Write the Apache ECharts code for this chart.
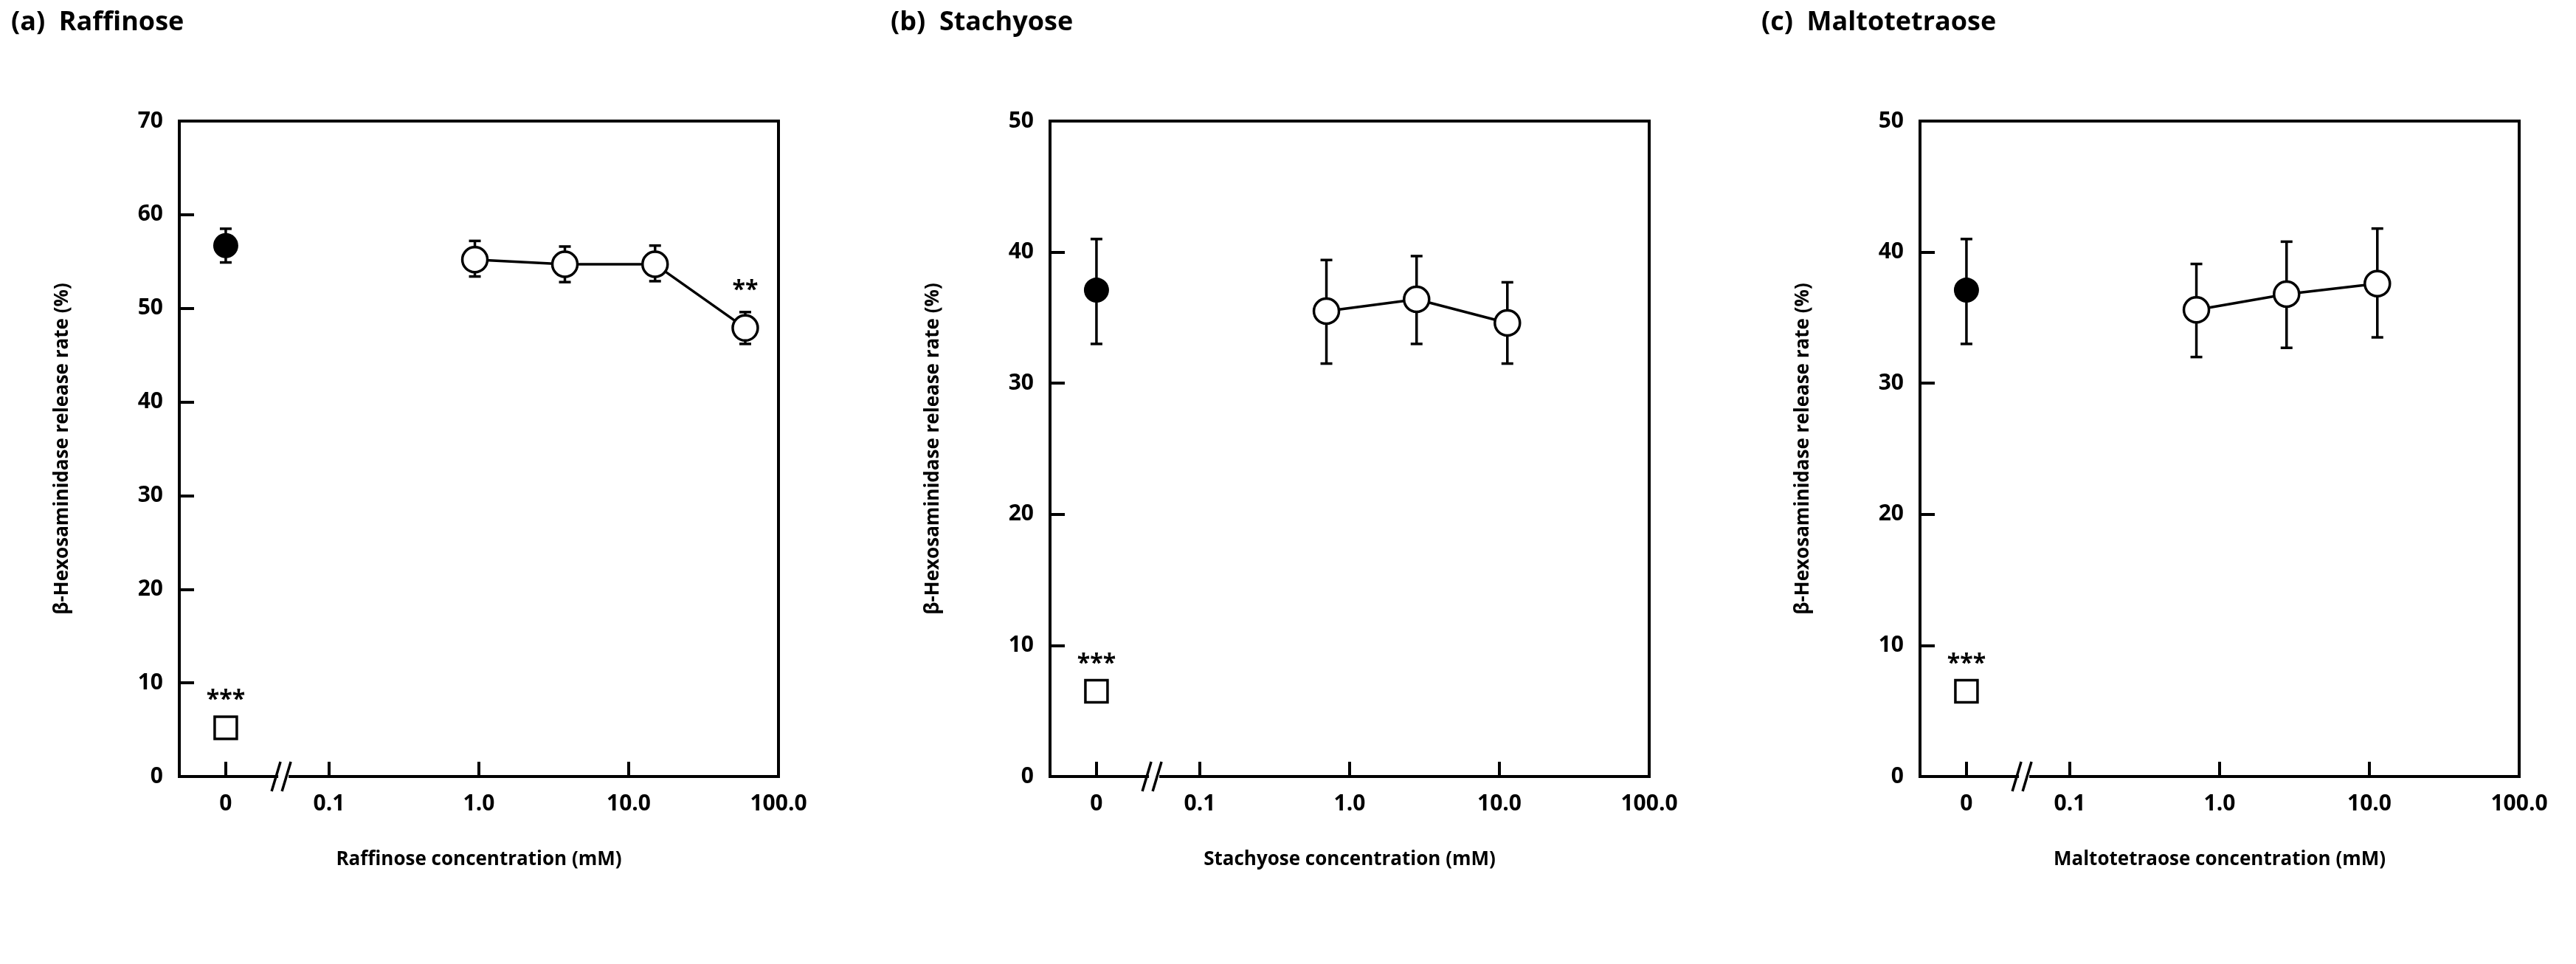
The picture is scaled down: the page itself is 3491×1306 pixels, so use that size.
<!DOCTYPE html>
<html><head><meta charset="utf-8">
<script src="https://cdn.jsdelivr.net/npm/echarts@6/dist/echarts.min.js"></script>
<style>html,body{margin:0;background:#fff}#c{width:3491px;height:1306px}</style>
</head><body><div id="c"></div>
<script>
// panel info
const titles = ['(a)  Raffinose', '(b)  Stachyose', '(c)  Maltotetraose'];
const xNames = ['Raffinose concentration (mM)', 'Stachyose concentration (mM)', 'Maltotetraose concentration (mM)'];
const yMax = [70, 50, 50];
// concentrations (mM) of treated points
const concA = [0.94, 3.75, 15, 60];
const concB = [0.7, 2.8, 11.3];
const concC = [0.7, 2.8, 11.3];
// means and error bounds
const meanA = [55.2, 54.7, 54.7, 47.9], loA = [53.4, 52.8, 52.9, 46.2], hiA = [57.2, 56.6, 56.7, 49.6];
const meanB = [35.5, 36.4, 34.6], loB = [31.5, 33.0, 31.5], hiB = [39.4, 39.7, 37.7];
const meanC = [35.6, 36.8, 37.6], loC = [32.0, 32.7, 33.5], hiC = [39.1, 40.8, 41.8];
// positive control (filled) and negative control (square), plotted at "0"
const ctrl = [[56.7, 54.9, 58.5], [37.1, 33.0, 41.0], [37.1, 33.0, 41.0]];
const blank = [5.2, 6.5, 6.5];
const sigTreated = [[null, null, null, '**'], [null, null, null], [null, null, null]];
// x axis: log10 units, "0" drawn at -1.69, break at -1.3
const zeroPos = -1.69, breakPos = -1.3;
const tickVals = [zeroPos, -1, 0, 1, 2];
const tickText = ['0', '0.1', '1.0', '10.0', '100.0'];

const conc = [concA, concB, concC], mean = [meanA, meanB, meanC], lo = [loA, loB, loC], hi = [hiA, hiB, hiC];
const lefts = [243, 1423, 2602], W = 812;
const FONT = 'Open Sans';
const chart = echarts.init(document.getElementById('c'));
let grid = [], xAxis = [], yAxis = [], series = [], title = [];
const titleX = [10, 1202, 2382];

const errRender = function (params, api) {
  const x = api.value(0), l = api.value(1), h = api.value(2);
  const p1 = api.coord([x, l]), p2 = api.coord([x, h]), w = 8;
  const st = { stroke: '#000', lineWidth: 3.5 };
  return { type: 'group', children: [
    { type: 'line', shape: { x1: p1[0], y1: p1[1], x2: p2[0], y2: p2[1] }, style: st },
    { type: 'line', shape: { x1: p1[0] - w, y1: p1[1], x2: p1[0] + w, y2: p1[1] }, style: st },
    { type: 'line', shape: { x1: p2[0] - w, y1: p2[1], x2: p2[0] + w, y2: p2[1] }, style: st }
  ]};
};
const breakRender = function (params, api) {
  const p = api.coord([api.value(0), 0]);
  const st = { stroke: '#000', lineWidth: 3.5 };
  return { type: 'group', children: [
    { type: 'rect', shape: { x: p[0] - 8, y: p[1] - 4, width: 14, height: 8 }, style: { fill: '#fff' } },
    { type: 'line', shape: { x1: p[0] - 17, y1: p[1] + 20, x2: p[0] - 5, y2: p[1] - 20 }, style: st },
    { type: 'line', shape: { x1: p[0] - 3, y1: p[1] + 20, x2: p[0] + 9, y2: p[1] - 20 }, style: st }
  ]};
};

for (let i = 0; i < 3; i++) {
  title.push({ text: titles[i], left: titleX[i], top: 8, textStyle: { fontFamily: FONT, fontWeight: 'bold', fontSize: 36, color: '#000' } });
  grid.push({ left: lefts[i], width: W, top: 164, height: 888, show: true, borderColor: '#000', borderWidth: 4, backgroundColor: 'transparent' });
  xAxis.push({ gridIndex: i, type: 'value', min: -2, max: 2, splitLine: { show: false },
    axisLine: { onZero: false, lineStyle: { color: '#000', width: 4 } },
    axisTick: { inside: true, length: 20, customValues: tickVals, lineStyle: { color: '#000', width: 4 } },
    axisLabel: { customValues: tickVals, margin: 22, fontFamily: FONT, fontWeight: 'bold', fontSize: 30, color: '#000',
      formatter: v => tickText[tickVals.indexOf(v)] },
    name: xNames[i], nameLocation: 'middle', nameGap: 100,
    nameTextStyle: { fontFamily: FONT, fontWeight: 'bold', fontSize: 26, color: '#000' } });
  yAxis.push({ gridIndex: i, type: 'value', min: 0, max: yMax[i], interval: 10, splitLine: { show: false },
    axisLine: { onZero: false, lineStyle: { color: '#000', width: 4 } },
    axisTick: { inside: true, length: 20, lineStyle: { color: '#000', width: 4 } },
    axisLabel: { margin: 22, fontFamily: FONT, fontWeight: 'bold', fontSize: 30, color: '#000' },
    name: 'β-Hexosaminidase release rate (%)', nameLocation: 'middle', nameGap: 145,
    nameTextStyle: { fontFamily: FONT, fontWeight: 'bold', fontSize: 26, color: '#000' } });

  const lx = conc[i].map(c => Math.log10(c));
  series.push({ type: 'custom', xAxisIndex: i, yAxisIndex: i, renderItem: breakRender, data: [[breakPos]], z: 5, silent: true });
  series.push({ type: 'custom', xAxisIndex: i, yAxisIndex: i, renderItem: errRender,
    data: lx.map((x, k) => [x, lo[i][k], hi[i][k]]).concat([[zeroPos, ctrl[i][1], ctrl[i][2]]]), z: 2 });
  series.push({ type: 'line', xAxisIndex: i, yAxisIndex: i, symbol: 'circle', symbolSize: 34, z: 3,
    lineStyle: { color: '#000', width: 3.5 }, itemStyle: { color: '#fff', borderColor: '#000', borderWidth: 3.5 },
    data: lx.map((x, k) => ({ value: [x, mean[i][k]],
      label: sigTreated[i][k] ? { show: true, formatter: sigTreated[i][k], position: 'top', distance: 16, fontFamily: FONT, fontWeight: 'bold', fontSize: 32, color: '#000' } : undefined })) });
  series.push({ type: 'scatter', xAxisIndex: i, yAxisIndex: i, symbol: 'circle', symbolSize: 34, z: 3,
    itemStyle: { color: '#000', opacity: 1 }, data: [[zeroPos, ctrl[i][0]]] });
  series.push({ type: 'scatter', xAxisIndex: i, yAxisIndex: i, symbol: 'rect', symbolSize: 30, z: 3,
    itemStyle: { color: '#fff', borderColor: '#000', borderWidth: 3.5, opacity: 1 },
    label: { show: true, formatter: '***', position: 'top', distance: 4, fontFamily: FONT, fontWeight: 'bold', fontSize: 32, color: '#000' },
    data: [[zeroPos, blank[i]]] });
}
chart.setOption({ animation: false, title, grid, xAxis, yAxis, series });
</script></body></html>
